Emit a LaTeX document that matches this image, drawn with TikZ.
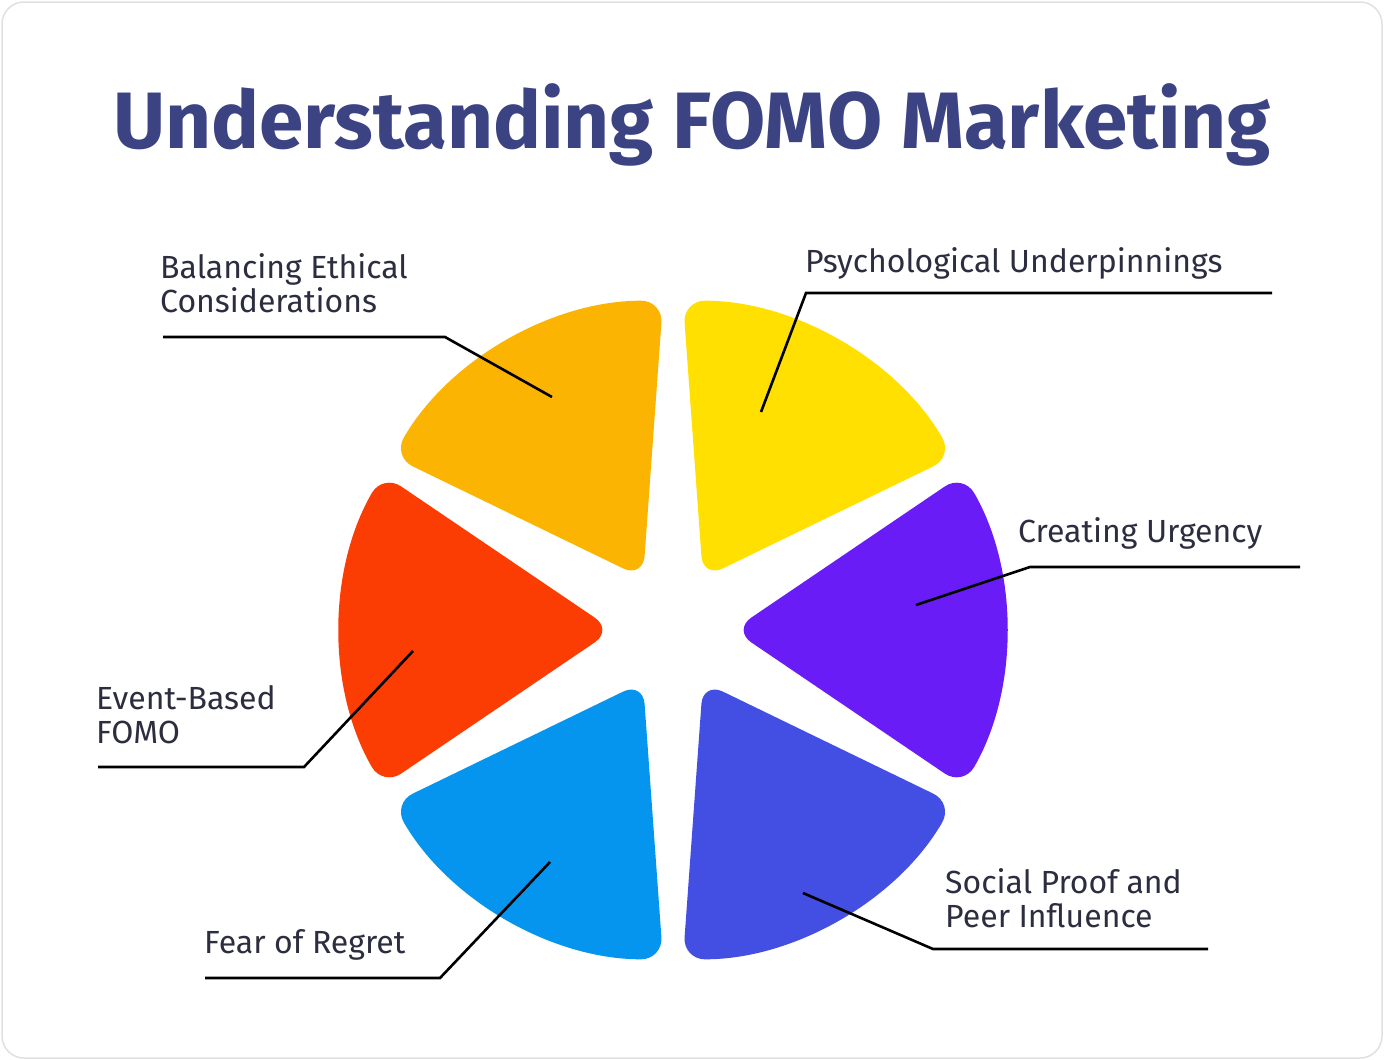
\documentclass[tikz,border=0pt]{standalone}
\usepackage{fontspec}
\setmainfont{Fira Sans}
\usetikzlibrary{calc}
\begin{document}
\begin{tikzpicture}[x=1pt,y=1pt,
  lab/.style={anchor=base west,inner sep=0pt,text=labtxt,font=\fontsize{32}{32}\selectfont},
  lead/.style={line width=2.6pt,black}]
\definecolor{labtxt}{HTML}{2C2D3F}
\definecolor{ttl}{HTML}{3B4383}
\definecolor{cY}{HTML}{FFE000}
\definecolor{cP}{HTML}{6A1CF6}
\definecolor{cV}{HTML}{434EE3}
\definecolor{cB}{HTML}{0695EE}
\definecolor{cR}{HTML}{FB3D03}
\definecolor{cO}{HTML}{FBB401}
\useasboundingbox (0,0) rectangle (1384,-1060);
\draw[draw=black!12,fill=white,line width=1.5pt,rounded corners=22] (2,-2) rectangle (1382,-1058);
\node[anchor=base,inner sep=0pt,text=ttl,font=\fontsize{80}{80}\selectfont\bfseries] (title) at (692,-148) {Understanding FOMO Marketing};
\coordinate (C) at (673,-630);
\foreach \a/\b/\c in {30/90/cY,-30/30/cP,-90/-30/cV,-150/-90/cB,150/210/cR,90/150/cO}{
  \pgfmathsetmacro{\m}{(\a+\b)/2}
  \begin{scope}[shift={($(C)+(\m:20)$)}]
   \fill[\c,rounded corners=22] (\m:40) -- (\a:312) arc[start angle=\a,end angle=\b,radius=312] -- cycle;
  \end{scope}
}
\node[lab] (psy) at (805,-272) {Psychological Underpinnings};
\coordinate (p1) at (1272,-293); \coordinate (p2) at (806,-293); \coordinate (p3) at (761,-412);
\draw[lead] (p1) -- (p2) -- (p3);
\node[lab] (urg) at (1018,-542) {Creating Urgency};
\coordinate (u1) at (1300,-567); \coordinate (u2) at (1030,-567); \coordinate (u3) at (916,-605);
\draw[lead] (u1) -- (u2) -- (u3);
\node[lab] (soc1) at (945,-893) {Social Proof and};
\node[lab] (soc2) at (945,-927) {Peer Influence};
\coordinate (s1) at (1208,-949); \coordinate (s2) at (933,-949); \coordinate (s3) at (803,-893);
\draw[lead] (s1) -- (s2) -- (s3);
\node[lab] (fear) at (204,-953) {Fear of Regret};
\coordinate (f1) at (205,-978); \coordinate (f2) at (440,-978); \coordinate (f3) at (550,-862);
\draw[lead] (f1) -- (f2) -- (f3);
\node[lab] (ev1) at (96,-709) {Event-Based};
\node[lab] (ev2) at (96,-743) {FOMO};
\coordinate (e1) at (98,-767); \coordinate (e2) at (304,-767); \coordinate (e3) at (413,-651);
\draw[lead] (e1) -- (e2) -- (e3);
\node[lab] (bal1) at (160,-278) {Balancing Ethical};
\node[lab] (bal2) at (160,-312) {Considerations};
\coordinate (b1) at (163,-337); \coordinate (b2) at (445,-337); \coordinate (b3) at (552,-397);
\draw[lead] (b1) -- (b2) -- (b3);
\end{tikzpicture}
\end{document}
